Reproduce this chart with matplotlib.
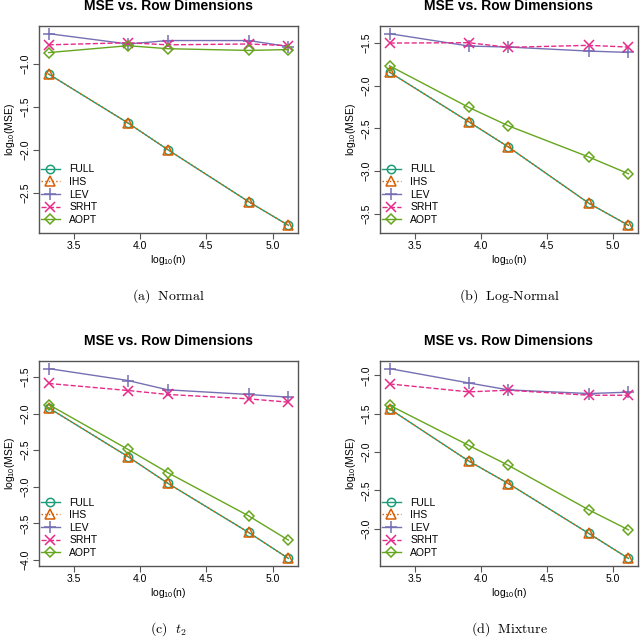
import matplotlib
matplotlib.use("Agg")
import matplotlib.pyplot as plt
import numpy as np

plt.rcParams['font.family'] = ['Liberation Sans', 'DejaVu Sans']
plt.rcParams['mathtext.fontset'] = 'custom'
plt.rcParams['mathtext.rm'] = 'Liberation Sans'
plt.rcParams['mathtext.it'] = 'Liberation Sans:italic'

log_n = [3.31, 3.91, 4.21, 4.82, 5.12]
methods = ["FULL", "IHS", "LEV", "SRHT", "AOPT"]

normal = {
    "FULL": [-1.12, -1.69, -2.00, -2.605, -2.88],
    "IHS":  [-1.12, -1.69, -2.00, -2.605, -2.88],
    "LEV":  [-0.65, -0.77, -0.73, -0.73, -0.80],
    "SRHT": [-0.78, -0.755, -0.78, -0.77, -0.79],
    "AOPT": [-0.87, -0.79, -0.825, -0.845, -0.835],
}
lognormal = {
    "FULL": [-1.842, -2.423, -2.718, -3.378, -3.637],
    "IHS":  [-1.842, -2.423, -2.718, -3.378, -3.637],
    "LEV":  [-1.39, -1.535, -1.547, -1.594, -1.61],
    "SRHT": [-1.50, -1.496, -1.55, -1.527, -1.547],
    "AOPT": [-1.767, -2.254, -2.47, -2.836, -3.032],
}
t2 = {
    "FULL": [-1.922, -2.589, -2.952, -3.623, -3.977],
    "IHS":  [-1.922, -2.589, -2.952, -3.623, -3.977],
    "LEV":  [-1.387, -1.55, -1.677, -1.74, -1.777],
    "SRHT": [-1.59, -1.686, -1.74, -1.80, -1.845],
    "AOPT": [-1.877, -2.49, -2.807, -3.397, -3.728],
}
mixture = {
    "FULL": [-1.437, -2.117, -2.41, -3.06, -3.385],
    "IHS":  [-1.437, -2.117, -2.41, -3.06, -3.385],
    "LEV":  [-0.913, -1.10, -1.19, -1.238, -1.22],
    "SRHT": [-1.113, -1.216, -1.195, -1.26, -1.26],
    "AOPT": [-1.39, -1.913, -2.173, -2.753, -3.013],
}

panels = [normal, lognormal, t2, mixture]
captions = [r"$\mathrm{(a)\ \ Normal}$", r"$\mathrm{(b)\ \ Log\text{-}Normal}$",
            r"$\mathrm{(c)}\ \ t_2$", r"$\mathrm{(d)\ \ Mixture}$"]
yticks_list = [[-1.0, -1.5, -2.0, -2.5],
               [-1.5, -2.0, -2.5, -3.0, -3.5],
               [-1.5, -2.0, -2.5, -3.0, -3.5, -4.0],
               [-1.0, -1.5, -2.0, -2.5, -3.0]]
xticks = [3.5, 4.0, 4.5, 5.0]

styles = {
    "FULL": dict(color="#1B9E77", ls="-", marker="o"),
    "IHS":  dict(color="#D95F02", ls=":", marker="^"),
    "LEV":  dict(color="#7570B3", ls="-", marker="+"),
    "SRHT": dict(color="#E7298A", ls="--", marker="x"),
    "AOPT": dict(color="#66A61E", ls="-", marker="D"),
}
msizes = {"FULL": 6, "IHS": 7.5, "LEV": 8, "SRHT": 6.5, "AOPT": 5.5}

fig = plt.figure(figsize=(6.4, 6.38), dpi=100)
W, H = 640, 638
boxes = [(39, 26, 298, 233), (380, 26, 638, 233),
         (39, 361, 298, 566), (380, 361, 638, 566)]

boxcol = "#555555"
for i, (data, cap, yt, bx) in enumerate(zip(panels, captions, yticks_list, boxes)):
    x0, y0, x1, y1 = bx
    ax = fig.add_axes([x0 / W, 1 - y1 / H, (x1 - x0) / W, (y1 - y0) / H])
    for m in methods:
        st = styles[m]
        ax.plot(log_n, data[m], color=st["color"], ls=st["ls"], lw=1.0,
                marker=st["marker"], ms=msizes[m], mfc="none", mec=st["color"],
                mew=1.1, label=m)
    ax.margins(x=0.04, y=0.04)
    ax.set_xticks(xticks)
    ax.set_xticklabels([f"{v:.1f}" for v in xticks])
    ax.set_yticks(yt)
    ax.set_yticklabels([f"{v:.1f}".replace("-", "\u2212") for v in yt],
                       rotation=90, va="center")
    ax.tick_params(axis="both", direction="out", length=4, width=0.8,
                   color=boxcol, labelsize=7.5, pad=2)
    for s in ax.spines.values():
        s.set_color(boxcol)
        s.set_linewidth(1.0)
    ax.set_xlabel(r"log$_{10}$(n)", fontsize=7.5, labelpad=1.5)
    ax.set_ylabel(r"log$_{10}$(MSE)", fontsize=7.5, labelpad=2.5)
    ax.text(0.5, 1 + 20 / (y1 - y0), "MSE vs. Row Dimensions", transform=ax.transAxes,
            ha="center", va="center", fontsize=10, fontweight="bold")
    fig.text((x0 + x1) / 2 / W, 1 - (y1 + 63) / H, cap, ha="center", va="center",
             fontsize=10, math_fontfamily="cm")
    ax.legend(loc="lower left", bbox_to_anchor=(-0.004, 0.024), frameon=False,
              fontsize=7.5, handlelength=1.8, labelspacing=0.25,
              borderaxespad=0.0, borderpad=0.3, handletextpad=0.9)

fig.savefig("out.png", dpi=100)
